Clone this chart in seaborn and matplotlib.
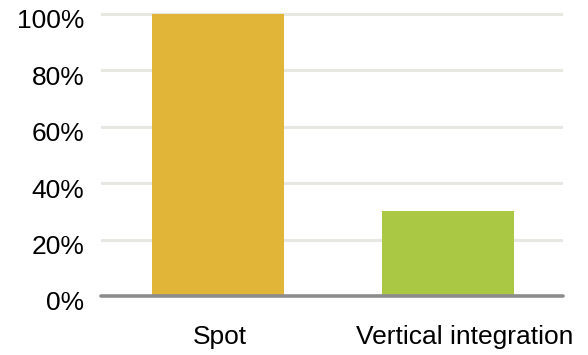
import matplotlib
matplotlib.use("Agg")
import matplotlib.pyplot as plt
import matplotlib.transforms as mtransforms
import seaborn as sns
import pandas as pd
from matplotlib.ticker import FuncFormatter

categories = ["Spot", "Vertical integration"]
values = [100, 30]
colors = ["#E1B537", "#AAC843"]
yticks = [0, 20, 40, 60, 80, 100]

sns.set_style("white")
plt.rcParams["font.family"] = ["Liberation Sans", "DejaVu Sans"]

df = pd.DataFrame({"category": categories, "value": values})

fig = plt.figure(figsize=(5.88, 3.55), dpi=100)
ax = fig.add_axes([101 / 588, 1 - 296 / 355, 462 / 588, (296 - 8.36) / 355])

sns.barplot(data=df, x="category", y="value", hue="category",
            palette=colors, width=0.574, legend=False, ax=ax,
            saturation=1, zorder=3, linewidth=0, edgecolor="none")

ax.set_xlim(-0.5087, 1.5)
ax.set_ylim(0, 102)
ax.set_yticks(yticks)
ax.yaxis.set_major_formatter(FuncFormatter(lambda v, p: f"{int(v)}%"))
ax.set_xlabel("")
ax.set_ylabel("")

for y in yticks[1:]:
    ax.axhline(y, color="#E8E8E2", lw=2.2, zorder=1)
ax.axhline(0, color="#8C8C8C", lw=2.6, zorder=4, clip_on=False)

for s in ax.spines.values():
    s.set_visible(False)

ax.tick_params(axis="both", length=0, labelsize=19, colors="#000000")
ax.tick_params(axis="y", pad=12)
ax.tick_params(axis="x", pad=21)

for lab in ax.get_yticklabels():
    lab.set_transform(lab.get_transform() + mtransforms.ScaledTranslation(0, -5 / 100, fig.dpi_scale_trans))
xoffs = [2, 17]
for lab, dx in zip(ax.get_xticklabels(), xoffs):
    lab.set_transform(lab.get_transform() + mtransforms.ScaledTranslation(dx / 100, 0, fig.dpi_scale_trans))

fig.savefig("out.png", dpi=100)
